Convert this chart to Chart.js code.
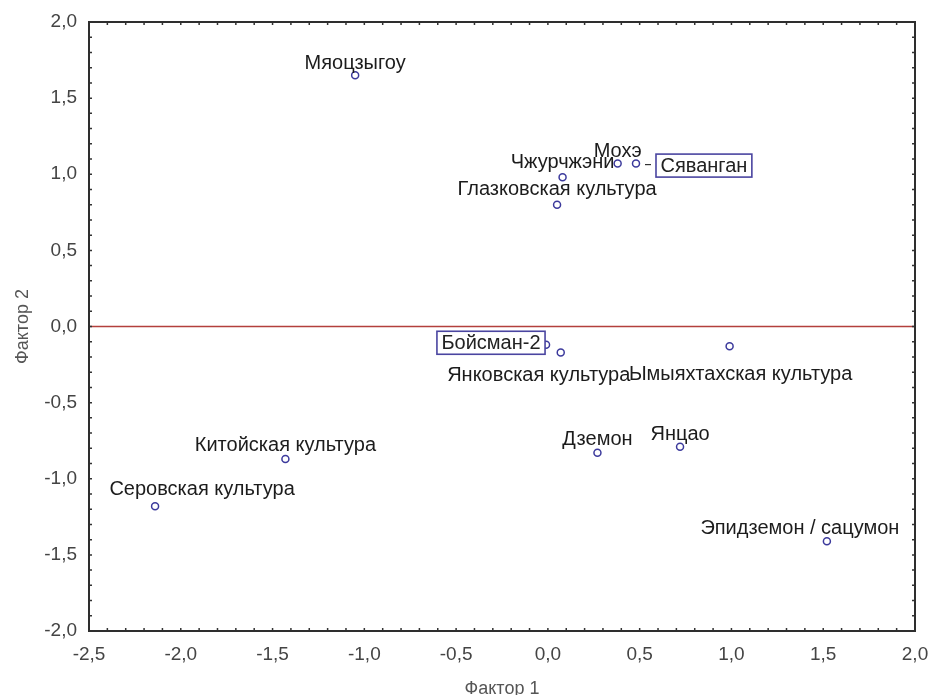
<!DOCTYPE html>
<html>
<head>
<meta charset="utf-8">
<script src="https://cdn.jsdelivr.net/npm/chart.js@4.4.1/dist/chart.umd.min.js"></script>
<style>
  html, body { margin: 0; padding: 0; background: #fff; }
  #wrap { width: 930px; height: 695px; }
</style>
</head>
<body>
<div id="wrap"><canvas id="chart" width="930" height="695"></canvas></div>
<script>
// values
const names = [
  'Мяоцзыгоу', 'Мохэ', 'Сяванган', 'Чжурчжэни', 'Глазковская культура',
  'Бойсман-2', 'Янковская культура', 'Ымыяхтахская культура',
  'Китойская культура', 'Серовская культура', 'Дземон', 'Янцао',
  'Эпидземон / сацумон'
];
const factor1 = [-1.05, 0.38, 0.48, 0.08, 0.05, -0.01, 0.07, 0.99, -1.43, -2.14, 0.27, 0.72, 1.52];
const factor2 = [1.65, 1.07, 1.07, 0.98, 0.80, -0.12, -0.17, -0.13, -0.87, -1.18, -0.83, -0.79, -1.41];
const boxedNames = ['Сяванган', 'Бойсман-2'];

const xTicks = [-2.5, -2, -1.5, -1, -0.5, 0, 0.5, 1, 1.5, 2];
const yTicks = [-2, -1.5, -1, -0.5, 0, 0.5, 1, 1.5, 2];
const xTitle = 'Фактор 1';
const yTitle = 'Фактор 2';

// where each label sits relative to its point (px)
const labelPlace = {
  'Мяоцзыгоу': [0, -12],
  'Мохэ': [0, -12],
  'Сяванган': [20, 2, 'boxRight'],
  'Чжурчжэни': [0, -15],
  'Глазковская культура': [0, -15],
  'Бойсман-2': [-1, -2, 'boxLeft'],
  'Янковская культура': [-22, 23],
  'Ымыяхтахская культура': [11, 28],
  'Китойская культура': [0, -13],
  'Серовская культура': [47, -17],
  'Дземон': [0, -13],
  'Янцао': [0, -12],
  'Эпидземон / сацумон': [-27, -13]
};

const points = names.map((n, i) => ({ x: factor1[i], y: factor2[i], name: n }));
const fmt = v => v.toFixed(1).replace('.', ',');
const FONT = '"Liberation Sans", Arial, sans-serif';

const frame = {
  id: 'frame',
  beforeDatasetsDraw(chart) {
    const { ctx, chartArea: ca, scales: { y } } = chart;
    const y0 = y.getPixelForValue(0);
    ctx.save();
    ctx.strokeStyle = '#b3403c';
    ctx.lineWidth = 1.6;
    ctx.beginPath();
    ctx.moveTo(ca.left, y0);
    ctx.lineTo(ca.right, y0);
    ctx.stroke();
    ctx.restore();
  },
  afterDatasetsDraw(chart) {
    const { ctx, chartArea: ca, scales: { x, y } } = chart;
    const meta = chart.getDatasetMeta(0);
    ctx.save();
    ctx.font = '20px ' + FONT;
    ctx.textBaseline = 'middle';
    meta.data.forEach((el, i) => {
      const name = names[i];
      const [dx, dy, kind] = labelPlace[name];
      const w = ctx.measureText(name).width;
      if (boxedNames.includes(name)) {
        const bw = w + 9, bh = 23;
        const bx = kind === 'boxRight' ? el.x + dx : el.x + dx - bw;
        const by = el.y + dy - bh / 2;
        if (kind === 'boxRight') {
          ctx.strokeStyle = '#333';
          ctx.lineWidth = 1.2;
          ctx.beginPath();
          ctx.moveTo(el.x + 9, el.y + 1);
          ctx.lineTo(el.x + 15, el.y + 1);
          ctx.stroke();
        }
        ctx.fillStyle = '#fff';
        ctx.fillRect(bx, by, bw, bh);
        ctx.strokeStyle = '#4a45a0';
        ctx.lineWidth = 1.6;
        ctx.strokeRect(bx, by, bw, bh);
        ctx.fillStyle = '#222';
        ctx.textAlign = 'left';
        ctx.fillText(name, bx + 4.5, by + bh / 2 + 1);
      } else {
        ctx.fillStyle = '#1c1c1c';
        ctx.textAlign = 'center';
        ctx.fillText(name, el.x + dx, el.y + dy);
      }
    });

    // inward minor ticks on all four sides
    ctx.strokeStyle = '#333';
    ctx.lineWidth = 1.5;
    ctx.beginPath();
    for (let i = -25; i <= 20; i++) {
      const px = x.getPixelForValue(i / 10);
      ctx.moveTo(px, ca.bottom); ctx.lineTo(px, ca.bottom - 3);
      ctx.moveTo(px, ca.top); ctx.lineTo(px, ca.top + 3);
    }
    for (let i = -20; i <= 20; i++) {
      const py = y.getPixelForValue(i / 10);
      ctx.moveTo(ca.left, py); ctx.lineTo(ca.left + 3, py);
      ctx.moveTo(ca.right, py); ctx.lineTo(ca.right - 3, py);
    }
    ctx.stroke();
    ctx.strokeStyle = '#2e2e2e';
    ctx.lineWidth = 2;
    ctx.strokeRect(ca.left, ca.top, ca.right - ca.left, ca.bottom - ca.top);
    ctx.restore();
  }
};

new Chart(document.getElementById('chart'), {
  type: 'scatter',
  data: {
    datasets: [{
      data: points,
      pointStyle: 'circle',
      pointRadius: 3.5,
      pointBorderWidth: 1.5,
      borderColor: '#3c3a9c',
      backgroundColor: 'rgba(255,255,255,0)'
    }]
  },
  options: {
    responsive: false,
    animation: false,
    layout: { padding: { top: 22, right: 15, left: 0, bottom: 0 } },
    plugins: {
      legend: { display: false },
      tooltip: { enabled: false }
    },
    scales: {
      x: {
        type: 'linear',
        min: -2.5,
        max: 2.0,
        afterFit: s => { s.height = 64; s.paddingLeft = 0; s.paddingRight = 0; },
        afterBuildTicks: s => { s.ticks = xTicks.map(v => ({ value: v })); },
        grid: { display: false, drawTicks: false },
        border: { display: false },
        ticks: {
          padding: 12,
          color: '#444',
          font: { family: FONT, size: 19 },
          callback: v => fmt(v)
        },
        title: {
          display: true,
          text: xTitle,
          color: '#555',
          padding: { top: 0, bottom: 0 },
          font: { family: FONT, size: 18, lineHeight: 0.67 }
        }
      },
      y: {
        type: 'linear',
        min: -2.0,
        max: 2.0,
        afterFit: s => { s.width = 89; s.paddingTop = 0; s.paddingBottom = 0; },
        afterBuildTicks: s => { s.ticks = yTicks.map(v => ({ value: v })); },
        grid: { display: false, drawTicks: false },
        border: { display: false },
        ticks: {
          padding: 12,
          color: '#444',
          font: { family: FONT, size: 19 },
          callback: v => fmt(v)
        },
        title: {
          display: true,
          text: yTitle,
          color: '#555',
          padding: { top: 17, bottom: 0 },
          font: { family: FONT, size: 18, lineHeight: 0.67 }
        }
      }
    }
  },
  plugins: [frame]
});
</script>
</body>
</html>
